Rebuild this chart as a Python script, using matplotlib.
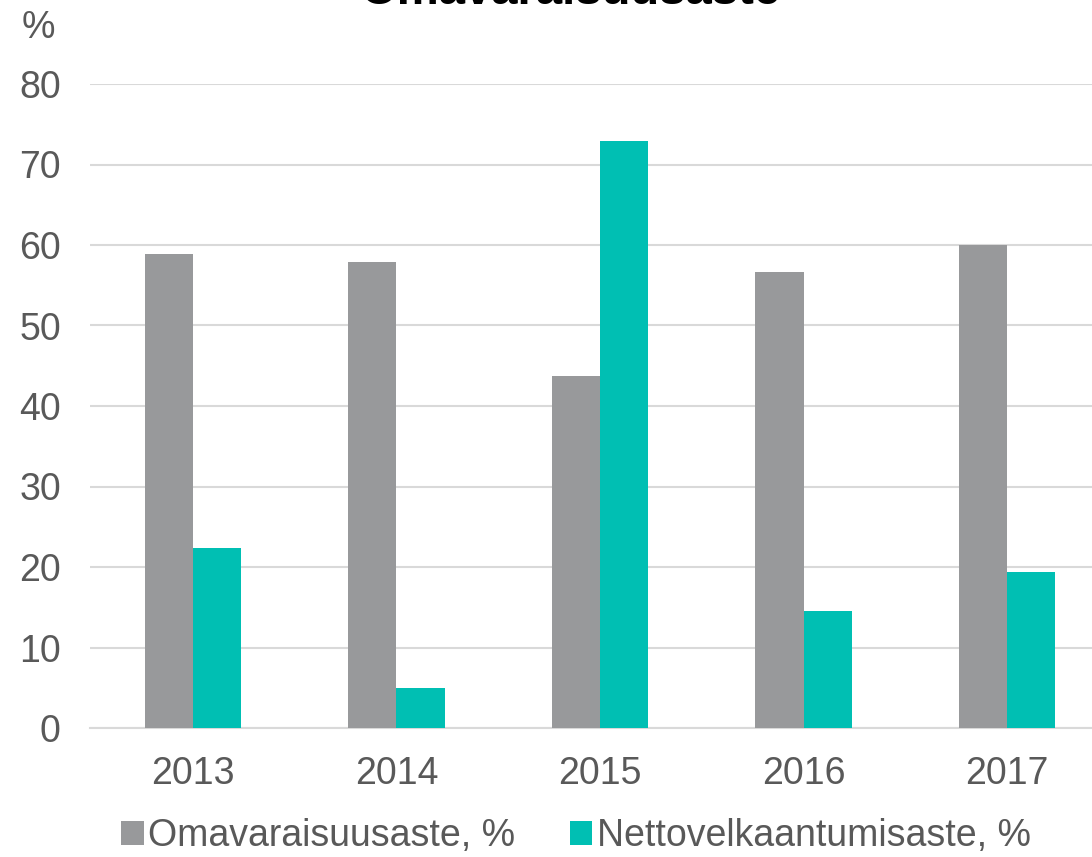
import matplotlib
matplotlib.use("Agg")
import matplotlib.pyplot as plt
import numpy as np

years = ["2013", "2014", "2015", "2016", "2017"]
omavaraisuus = [58.9, 57.9, 43.7, 56.6, 60.0]
nettovelka = [22.4, 5.0, 72.9, 14.5, 19.4]
yticks = [0, 10, 20, 30, 40, 50, 60, 70, 80]

W, H = 1092, 857
plt.rcParams['font.family'] = ['Liberation Sans', 'DejaVu Sans']
fig = plt.figure(figsize=(W/100, H/100), dpi=100)

left, right = 90, 1110
top, bottom = 84, 728
ax = fig.add_axes([left/W, 1 - bottom/H, (right-left)/W, (bottom-top)/H])

gray = "#98999b"
teal = "#00bfb3"
x = np.arange(len(years))
bw = 0.237
ax.bar(x - bw/2, omavaraisuus, bw, color=gray, label="Omavaraisuusaste, %", zorder=3)
ax.bar(x + bw/2, nettovelka, bw, color=teal, label="Nettovelkaantumisaste, %", zorder=3)

ax.set_ylim(0, 80)
ax.set_xlim(-0.506, 4.506)
ax.set_yticks(yticks)
ax.set_xticks(x)
ax.set_xticklabels(years)
ax.yaxis.grid(True, color="#d9d9d9", linewidth=1.5, zorder=0)
ax.set_axisbelow(True)
for s in ["top", "right", "left"]:
    ax.spines[s].set_visible(False)
ax.spines["bottom"].set_color("#d9d9d9")
ax.spines["bottom"].set_linewidth(1.5)
ax.tick_params(axis="both", length=0, labelsize=27, colors="#595959")
ax.tick_params(axis="y", pad=21)
ax.tick_params(axis="x", pad=20)

fig.text(38/W, 1 - 28/H, "%", fontsize=27, color="#595959", ha="center", va="center")
fig.text(570/W, 1 - 4/H, "Omavaraisuusaste", fontsize=34, fontweight="bold",
         color="black", ha="center", va="baseline")

fig.legend(loc="center", bbox_to_anchor=(576/W, 1 - 836/H), ncol=2, frameon=False,
           fontsize=27, handlelength=0.6, handleheight=0.6, handletextpad=0.12,
           columnspacing=1.45, labelcolor="#595959")

fig.savefig("out.png", dpi=100)
